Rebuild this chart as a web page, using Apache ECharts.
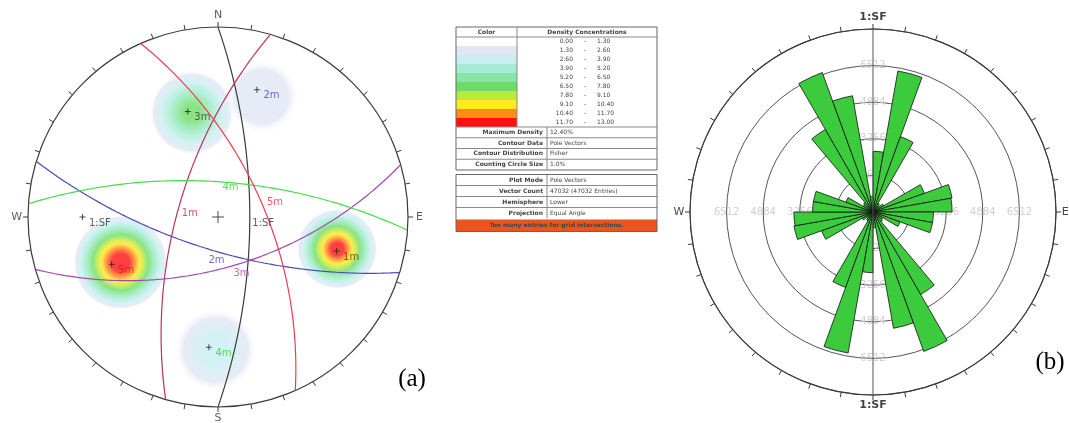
<!DOCTYPE html>
<html><head><meta charset="utf-8">
<script src="https://cdn.jsdelivr.net/npm/echarts@6/dist/echarts.min.js"></script>
<style>html,body{margin:0;padding:0;background:#fff}#c{width:1069px;height:423px}</style>
</head><body><div id="c"></div>
<script>
// ---------------- (a) Stereonet: mean set planes ----------------
const setNames    = ['1:SF', '1m', '2m', '3m', '4m', '5m'];
const setDipDirs  = [90, 286, 197, 164, 4, 66];
const setDips     = [71, 66, 70, 60, 69, 63];
// azimuth on each great circle where its name label sits
const setLabelAz  = [90, 270, 180, 180, 0, 90];

// density peaks (pole concentrations)
const peakTrends  = [245, 105, 346, 20, 181];
const peakPlunges = [31, 24, 31, 22, 20];
const peakValues  = [12.4, 11.8, 6.9, 2.4, 3.4];

// density legend
const densityLevels = [0.00, 1.30, 2.60, 3.90, 5.20, 6.50, 7.80, 9.10, 10.40, 11.70, 13.00];
const infoLabels1 = ['Maximum Density', 'Contour Data', 'Contour Distribution', 'Counting Circle Size'];
const infoValues1 = ['12.40%', 'Pole Vectors', 'Fisher', '1.0%'];
const infoLabels2 = ['Plot Mode', 'Vector Count', 'Hemisphere', 'Projection'];
const infoValues2 = ['Pole Vectors', '47032 (47032 Entries)', 'Lower', 'Equal Angle'];
const infoNote = 'Too many entries for grid intersections.';

// ---------------- (b) Rose diagram ----------------
const roseBins = ['0','10','20','30','40','50','60','70','80','90','100','110','120','130','140','150','160','170',
                  '180','190','200','210','220','230','240','250','260','270','280','290','300','310','320','330','340','350'];
const roseCounts = [2700, 6370, 3570, 450, 380, 550, 2430, 3570, 3520, 2690, 2690, 1280, 500, 550, 4240, 6600, 5250, 700,
                    2700, 6370, 3570, 450, 380, 550, 2430, 3570, 3520, 2690, 2690, 1280, 500, 550, 4240, 6600, 5250, 700];
const roseRingValues = [1628, 3256, 4884, 6512];
const roseRingLabelAngles = [0, 90, 180, 270];
const roseMax = 8140;

// ---------------- styles / layout ----------------
const densityColors = ['#ffffff', '#e2e6f4', '#c8eef0', '#a6ecd4', '#88e6a4', '#6edc64', '#bce83a', '#ffea1c', '#ff8c1a', '#ff1010'];
const setLineColors  = ['#3a3a3a', '#c0305e', '#4a4ab8', '#a448b0', '#44e044', '#f03c50'];
const setTextColors  = ['#333333', '#e0203c', '#4646c0', '#c040c0', '#2ed82e', '#f0303c'];
const poleTextColors = ['#333333', '#8a1a1a', '#4646c0', '#3a3a3a', '#2ed82e', '#e01010'];
const setLabelOffsets = [[2, 6], [5, -4], [-10, 8], [15, 4], [4, 6], [-1, -15]];
const blobSizes = [94, 80, 84, 76, 84];
const stereoCenter = [218, 217], stereoR = 190;
const roseCenter = [873, 212], roseR = 183;
const FONT = 'DejaVu Sans';

const D2R = Math.PI / 180;
function project(trend, plunge) { // equal-angle, lower hemisphere -> [radius, azimuth]
  return [Math.tan((90 - plunge) / 2 * D2R), ((trend % 360) + 360) % 360];
}
function apparentDip(dd, dip, az) {
  return Math.atan(Math.tan(dip * D2R) * Math.cos((az - dd) * D2R)) / D2R;
}
function greatCircle(dd, dip) {
  const pts = [];
  for (let b = -90; b <= 90; b += 1) pts.push(project(dd + b, apparentDip(dd, dip, dd + b)));
  return pts;
}
function bandIndex(v) {
  for (let i = densityLevels.length - 2; i >= 0; i--) if (v >= densityLevels[i]) return i;
  return 0;
}
function blobStops(peak) {
  const c = 0.22, tOf = L => c + (1 - c) * (peak - L) / (peak - densityLevels[1]);
  const top = bandIndex(peak);
  const stops = [{ offset: 0, color: densityColors[top] }];
  stops.push({ offset: Math.max(0.02, tOf(densityLevels[top]) * 0.7), color: densityColors[top] });
  for (let k = top - 1; k >= 1; k--) {
    stops.push({ offset: (tOf(densityLevels[k + 1]) + tOf(densityLevels[k])) / 2, color: densityColors[k] });
  }
  stops.push({ offset: 1, color: 'rgba(255,255,255,0)' });
  return stops;
}

const series = [];
// density blobs
series.push({
  type: 'scatter', coordinateSystem: 'polar', polarIndex: 0, z: 1, silent: true,
  data: peakValues.map((v, i) => ({
    value: project(peakTrends[i], peakPlunges[i]),
    symbolSize: blobSizes[i],
    itemStyle: { color: { type: 'radial', x: 0.5, y: 0.5, r: 0.5, colorStops: blobStops(v) } }
  }))
});
// great circles
setNames.forEach((n, i) => {
  series.push({
    type: 'line', coordinateSystem: 'polar', polarIndex: 0, z: 3, showSymbol: false, silent: true,
    data: greatCircle(setDipDirs[i], setDips[i]),
    lineStyle: { color: setLineColors[i], width: 1.2 }
  });
});
// great-circle name labels
series.push({
  type: 'scatter', coordinateSystem: 'polar', polarIndex: 0, z: 5, symbolSize: 1, silent: true,
  itemStyle: { color: 'rgba(0,0,0,0)' },
  data: setNames.map((n, i) => ({
    value: project(setLabelAz[i], apparentDip(setDipDirs[i], setDips[i], setLabelAz[i])),
    name: n,
    label: { show: true, formatter: n, position: 'right', distance: 0, offset: setLabelOffsets[i],
             color: setTextColors[i], fontSize: 10, fontFamily: FONT }
  }))
});
// poles
series.push({
  type: 'scatter', coordinateSystem: 'polar', polarIndex: 0, z: 5, silent: true,
  symbol: 'path://M5,0 L5,10 M0,5 L10,5', symbolSize: 6,
  itemStyle: { color: 'none', borderColor: '#222', borderWidth: 1 },
  data: setNames.map((n, i) => ({
    value: project(setDipDirs[i] + 180, 90 - setDips[i]),
    label: { show: true, formatter: n, position: 'right', distance: 1, offset: [0, 6],
             color: poleTextColors[i], fontSize: 10, fontFamily: FONT }
  }))
});
// centre cross
series.push({
  type: 'scatter', coordinateSystem: 'polar', polarIndex: 0, z: 5, silent: true,
  symbol: 'path://M5,0 L5,10 M0,5 L10,5', symbolSize: 12,
  itemStyle: { color: 'none', borderColor: '#222', borderWidth: 1 },
  data: [[0, 0]]
});
// cardinal labels (stereonet)
series.push({
  type: 'scatter', coordinateSystem: 'polar', polarIndex: 0, z: 5, symbolSize: 1, clip: false, silent: true,
  itemStyle: { color: 'rgba(0,0,0,0)' },
  label: { show: true, position: 'inside', formatter: p => p.name, color: '#333', fontSize: 11, fontFamily: FONT },
  data: [{ name: 'N', value: [1.06, 0] }, { name: 'E', value: [1.06, 90] }, { name: 'S', value: [1.06, 180] }, { name: 'W', value: [1.06, 270] }]
});

// rose bars
series.push({
  type: 'bar', coordinateSystem: 'polar', polarIndex: 1, z: 3, silent: true,
  barCategoryGap: '0%', barGap: '0%',
  itemStyle: { color: '#3ccb3c', borderColor: '#111', borderWidth: 0.8 },
  data: roseCounts
});
// rose ring labels
const ringLabelData = [];
roseRingLabelAngles.forEach(a => roseRingValues.forEach(v => ringLabelData.push({ name: String(v), value: [v, a] })));
series.push({
  type: 'scatter', coordinateSystem: 'polar', polarIndex: 2, z: 1, symbolSize: 1, silent: true,
  itemStyle: { color: 'rgba(0,0,0,0)' },
  label: { show: true, position: 'inside', formatter: p => p.name, color: '#c4c4c4', fontSize: 10, fontFamily: FONT },
  data: ringLabelData
});
// rose N-S reference line
series.push({
  type: 'line', coordinateSystem: 'polar', polarIndex: 2, z: 4, showSymbol: false, clip: false, silent: true,
  lineStyle: { color: '#555', width: 1 },
  data: [[roseMax * 1.035, 0], [roseMax * 1.035, 180]]
});
// rose outer labels
series.push({
  type: 'scatter', coordinateSystem: 'polar', polarIndex: 2, z: 5, symbolSize: 1, clip: false, silent: true,
  itemStyle: { color: 'rgba(0,0,0,0)' },
  label: { show: true, position: 'inside', formatter: p => p.name, color: '#111', fontSize: 11, fontFamily: FONT },
  data: [
    { name: '1:SF', value: [roseMax * 1.066, 0], label: { fontWeight: 'bold' } },
    { name: '1:SF', value: [roseMax * 1.056, 180], label: { fontWeight: 'bold' } },
    { name: 'W', value: [roseMax * 1.06, 270] },
    { name: 'E', value: [roseMax * 1.05, 90] }
  ]
});

// ---------------- legend table (graphic) ----------------
function buildLegend() {
  const g = [];
  const x0 = 456, x1 = 657, xc = 517, xs = 547;
  const line = '#8a8a8a';
  const txt = (x, y, s, align, bold) => ({
    type: 'text', x, y, silent: true,
    style: { text: s, fill: '#444', font: (bold ? 'bold ' : '') + '6px ' + FONT, align: align, verticalAlign: 'middle' }
  });
  const rect = (x, y, w, h, fill, stroke) => ({
    type: 'rect', silent: true, shape: { x, y, width: w, height: h },
    style: { fill: fill || 'none', stroke: stroke || 'none', lineWidth: 1 }
  });
  const hline = (xa, xb, y) => ({ type: 'line', silent: true, shape: { x1: xa, y1: y, x2: xb, y2: y }, style: { stroke: line, lineWidth: 1 } });
  const vline = (x, ya, yb) => ({ type: 'line', silent: true, shape: { x1: x, y1: ya, x2: x, y2: yb }, style: { stroke: line, lineWidth: 1 } });
  const bandTop = 37, bandH = 9;
  for (let i = 0; i < densityColors.length; i++) {
    g.push(rect(x0, bandTop + i * bandH, xc - x0, bandH, densityColors[i]));
    const y = bandTop + i * bandH + bandH / 2;
    g.push(txt(573, y, densityLevels[i].toFixed(2), 'right'));
    g.push(txt(585, y, '-', 'center'));
    g.push(txt(597, y, densityLevels[i + 1].toFixed(2), 'left'));
  }
  g.push(txt((x0 + xc) / 2, 32, 'Color', 'center', true));
  g.push(txt((xc + x1) / 2, 32, 'Density Concentrations', 'center', true));
  const box1Bottom = 127 + infoLabels1.length * 10.75;
  g.push(rect(x0, 27, x1 - x0, box1Bottom - 27, null, '#666'));
  g.push(hline(x0, x1, 37));
  g.push(vline(xc, 27, 127));
  g.push(hline(x0, x1, 127));
  infoLabels1.forEach((s, i) => {
    const y = 127 + i * 10.75;
    if (i > 0) g.push(hline(x0, x1, y));
    g.push(txt(xs - 4, y + 5.4, s, 'right', true));
    g.push(txt(xs + 3, y + 5.4, infoValues1[i], 'left'));
  });
  g.push(vline(xs, 127, box1Bottom));
  const top2 = 174.5;
  infoLabels2.forEach((s, i) => {
    const y = top2 + i * 11;
    if (i > 0) g.push(hline(x0, x1, y));
    g.push(txt(xs - 4, y + 5.5, s, 'right', true));
    g.push(txt(xs + 3, y + 5.5, infoValues2[i], 'left'));
  });
  const noteTop = top2 + infoLabels2.length * 11;
  g.push(vline(xs, top2, noteTop));
  g.push(rect(x0, noteTop + 1, x1 - x0, 12, '#e8561e'));
  g.push(txt((x0 + x1) / 2, noteTop + 7, infoNote, 'center', true));
  g.push(rect(x0, top2, x1 - x0, noteTop + 13 - top2, null, '#666'));
  return g;
}
const graphics = buildLegend();
graphics.push({ type: 'text', x: 412, y: 379, silent: true,
  style: { text: '(a)', font: '25px "Liberation Serif"', fill: '#000', align: 'center', verticalAlign: 'middle' } });
graphics.push({ type: 'text', x: 1050, y: 362, silent: true,
  style: { text: '(b)', font: '25px "Liberation Serif"', fill: '#000', align: 'center', verticalAlign: 'middle' } });

const hidden = { axisLine: { show: false }, axisTick: { show: false }, axisLabel: { show: false }, splitLine: { show: false }, splitArea: { show: false } };
const ringAngleAxis = (idx) => ({
  polarIndex: idx, type: 'value', min: 0, max: 360, interval: 10, startAngle: 90, clockwise: true,
  axisLine: { show: true, lineStyle: { color: '#3a3a3a', width: 1.2 } },
  axisTick: { show: true, length: 5, lineStyle: { color: '#3a3a3a', width: 1 } },
  axisLabel: { show: false }, splitLine: { show: false }, splitArea: { show: false }
});

const option = {
  animation: false,
  backgroundColor: '#fff',
  textStyle: { fontFamily: FONT },
  polar: [
    { center: stereoCenter, radius: stereoR },
    { center: roseCenter, radius: roseR },
    { center: roseCenter, radius: roseR }
  ],
  angleAxis: [
    ringAngleAxis(0),
    Object.assign({ polarIndex: 1, type: 'category', data: roseBins, startAngle: 90, clockwise: true, boundaryGap: true }, hidden),
    ringAngleAxis(2)
  ],
  radiusAxis: [
    Object.assign({ polarIndex: 0, type: 'value', min: 0, max: 1 }, hidden),
    Object.assign({ polarIndex: 1, type: 'value', min: 0, max: roseMax }, hidden),
    { polarIndex: 2, type: 'value', min: 0, max: roseMax, interval: 1628,
      axisLine: { show: false }, axisTick: { show: false }, axisLabel: { show: false },
      splitLine: { show: true, lineStyle: { color: '#555', width: 1 } } }
  ],
  graphic: graphics,
  series: series
};
const chart = echarts.init(document.getElementById('c'));
chart.setOption(option);
</script></body></html>
